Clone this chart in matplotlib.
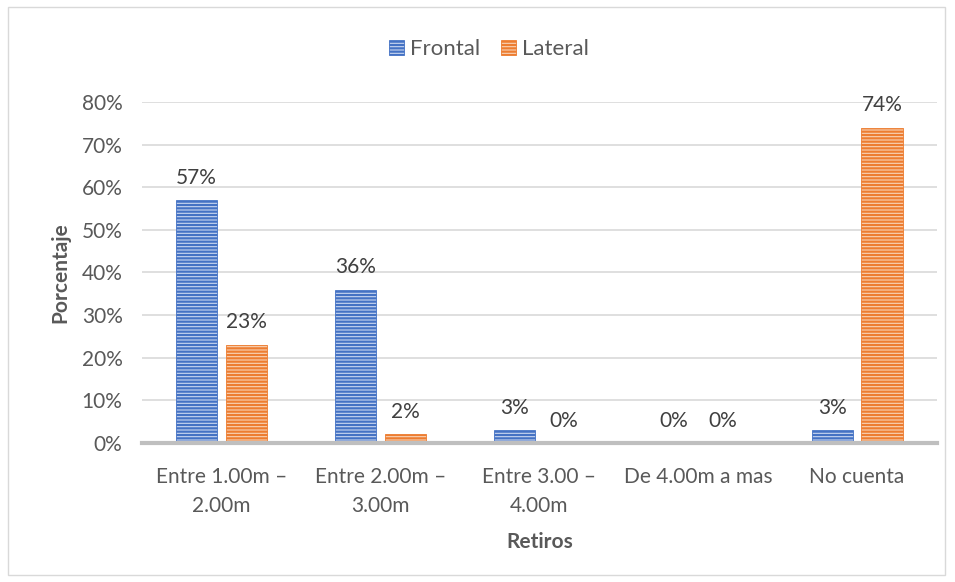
import matplotlib.pyplot as plt
import numpy as np
from matplotlib.patches import Rectangle

plt.rcParams['font.family'] = ['Lato', 'DejaVu Sans']
plt.rcParams['hatch.linewidth'] = 1.6

categorias = ["Entre 1.00m –\n2.00m", "Entre 2.00m –\n3.00m", "Entre 3.00 –\n4.00m",
              "De 4.00m a mas", "No cuenta"]
frontal = [57, 36, 3, 0, 3]
lateral = [23, 2, 0, 0, 74]

gris = '#595959'
fs = 15
fig = plt.figure(figsize=(9.55, 5.82), dpi=100)
ax = fig.add_axes([0.1487, 0.2388, 0.832, 0.586])

x = np.arange(len(categorias))
wi = 0.26
off = 0.157
b1 = ax.bar(x - off, frontal, width=wi, facecolor='#c9d7f0', edgecolor='#4472c4',
            hatch='-----', linewidth=0.6, label='Frontal', zorder=3)
b2 = ax.bar(x + off, lateral, width=wi, facecolor='#f9d3b6', edgecolor='#ed7d31',
            hatch='-----', linewidth=0.6, label='Lateral', zorder=3)

for bars, vals in ((b1, frontal), (b2, lateral)):
    for r, v in zip(bars, vals):
        ax.annotate(f"{v}%", (r.get_x() + r.get_width() / 2, v), xytext=(0, 9),
                    textcoords='offset points', ha='center', va='bottom',
                    fontsize=fs, color='#404040')

ax.set_xlim(-0.5, len(categorias) - 0.5)
ax.set_ylim(0, 80)
ax.set_yticks(range(0, 81, 10))
ax.set_yticklabels([f"{t}%" for t in range(0, 81, 10)])
ax.set_xticks(x)
ax.set_xticklabels(categorias, linespacing=1.6)
ax.tick_params(length=0, labelsize=fs, labelcolor=gris)
ax.tick_params(axis='y', pad=14)
ax.tick_params(axis='x', pad=17)
ax.grid(axis='y', color='#d9d9d9', linewidth=1.2, zorder=0)
for s in ('top', 'right', 'left'):
    ax.spines[s].set_visible(False)
ax.spines['bottom'].set_color('#bfbfbf')
ax.spines['bottom'].set_linewidth(3)
ax.spines['bottom'].set_zorder(4)

ax.set_xlabel("Retiros", fontsize=fs, fontweight='bold', color=gris, labelpad=11)
ax.set_ylabel("Porcentaje", fontsize=fs, fontweight='bold', color=gris, labelpad=8)

leg = fig.legend(loc='center', bbox_to_anchor=(0.512, 0.915), ncol=2, frameon=False,
                 fontsize=16, handlelength=0.68, handleheight=0.68, columnspacing=0.9,
                 handletextpad=0.27)
for t in leg.get_texts():
    t.set_color(gris)

fig.patches.append(Rectangle((0.008, 0.012), 0.982, 0.976, transform=fig.transFigure,
                             fill=False, edgecolor='#d9d9d9', linewidth=1))

fig.savefig('out.png', dpi=100)
